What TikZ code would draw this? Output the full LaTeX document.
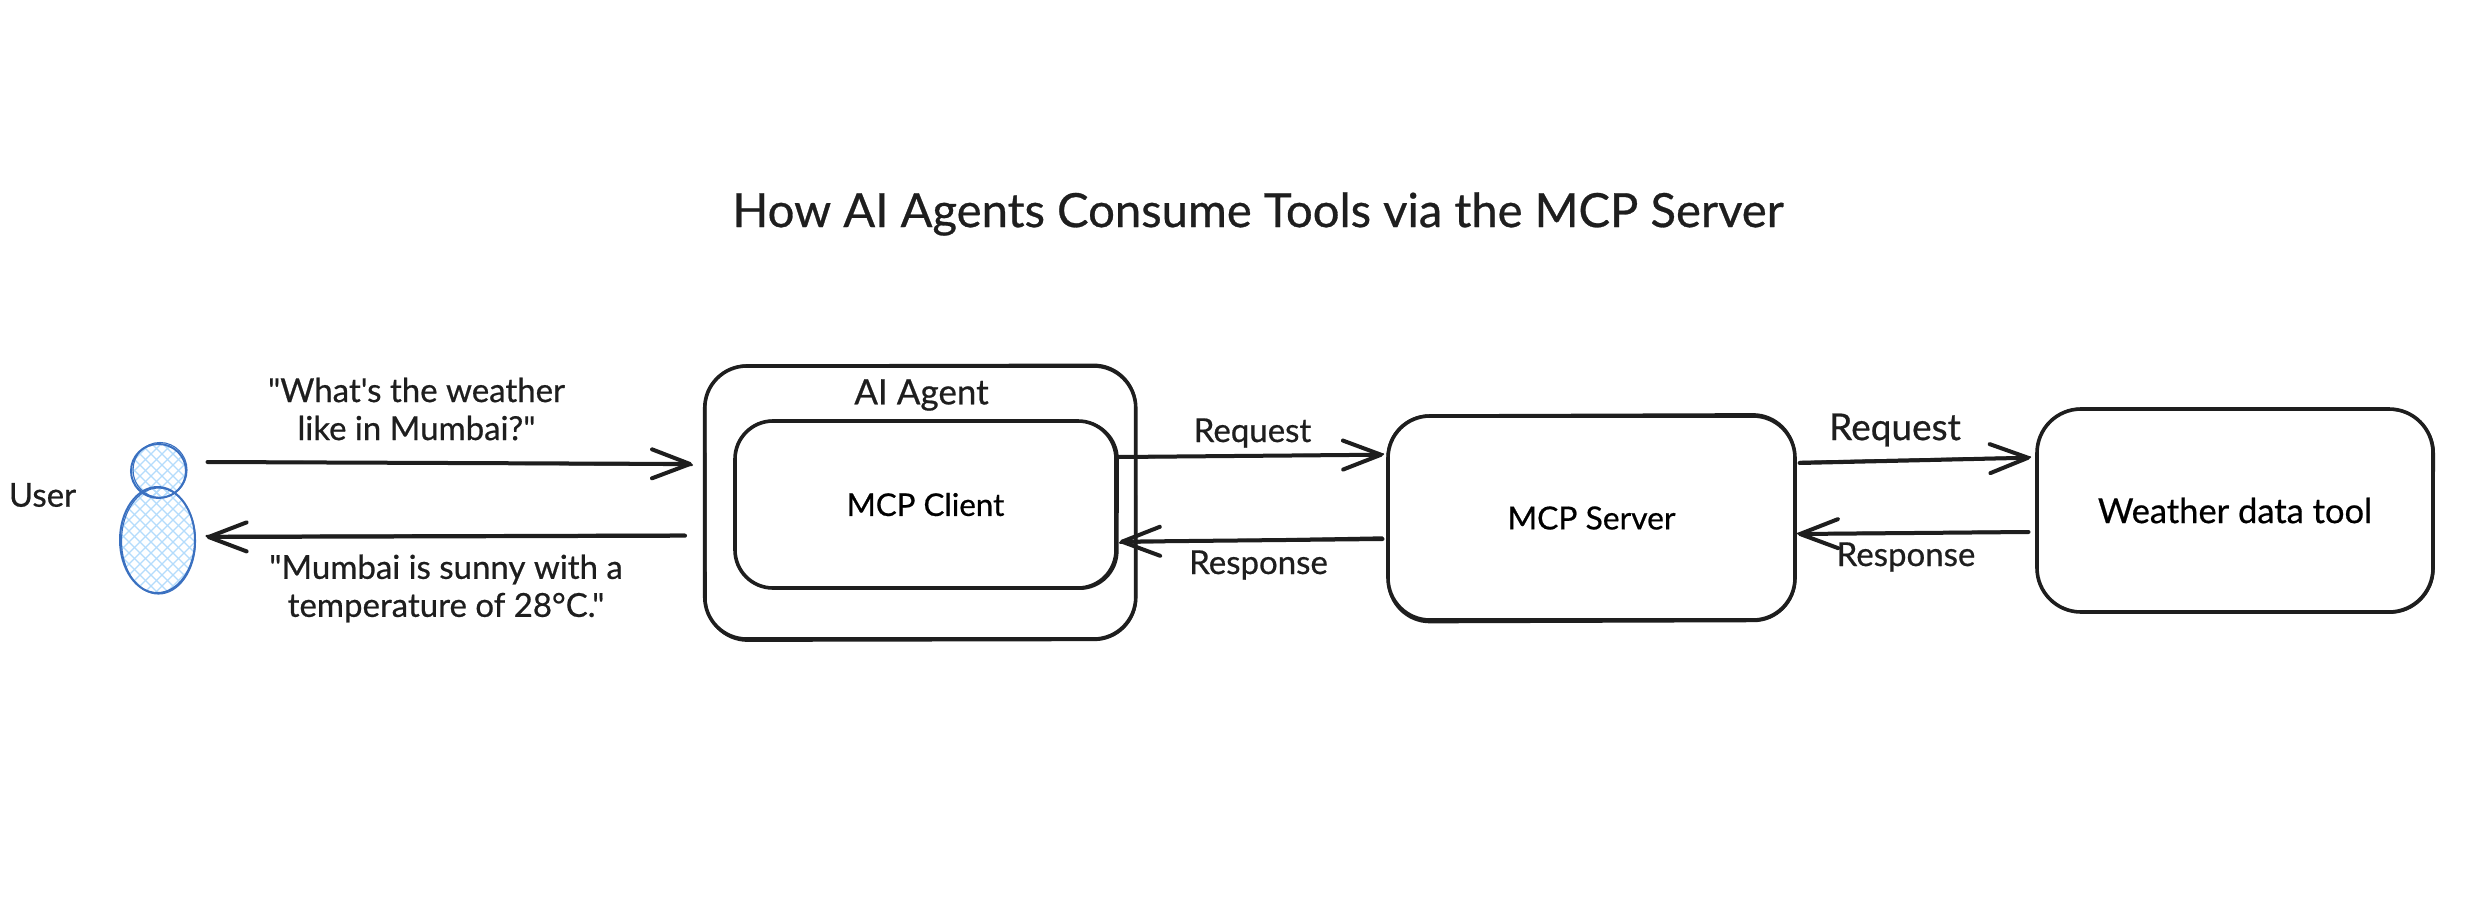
\documentclass[tikz,border=0pt]{standalone}
\usepackage{fontspec}
\setmainfont{Lato}[Ligatures=TeXOff,FakeBold=0.6]
\usetikzlibrary{arrows.meta,shapes.geometric}
\definecolor{ink}{HTML}{1E1E1E}
\definecolor{bluestroke}{HTML}{3A70C0}
\definecolor{bluefill}{HTML}{B4DCFC}
\tikzset{
  x=1pt,y=-1pt,
  boxshape/.style n args={4}{draw=ink,line width=3.6pt,rounded corners=#1,inner sep=0pt,outer sep=0pt,align=center,minimum width=#2,minimum height=#3,font=\fontsize{#4}{#4}\selectfont},
  sketchpass/.style={draw=ink,line width=2.2pt,rounded corners=#1},
  flow/.style={draw=ink,line width=4pt,line cap=round,-{Straight Barb[length=38pt,width=29pt,line width=4pt,round]}},
  flowback/.style={draw=ink,line width=2.4pt,line cap=round},
  lbl/.style={text=ink,inner sep=0pt,align=center,font=\fontsize{#1}{38}\selectfont},
  lbl/.default=33,
  titletext/.style={text=ink,inner sep=0pt,font=\fontsize{47.2}{50}\selectfont},
  person/.style={draw=bluestroke,line width=2pt,ellipse,inner sep=0pt,outer sep=0pt},
  personback/.style={draw=bluestroke,line width=1.1pt},
  hatchline/.style={draw=bluefill,line width=1.2pt},
}
\begin{document}
\begin{tikzpicture}
\useasboundingbox (0,0) rectangle (2468,916);
\fill[white] (0,0) rectangle (2468,916);

% title
\node[titletext] (title) at (1258,214) {How AI Agents Consume Tools via the MCP Server};

% person hatch
\begin{scope}
  \clip (158.5,471) ellipse [x radius=27.5,y radius=27];
  \foreach \c in {-60,-49,...,200} {
    \draw[hatchline] (\c,430) -- (\c+180,610);
    \draw[hatchline] (\c+180,430) -- (\c,610);
  }
\end{scope}
\begin{scope}
  \clip (157.5,540) ellipse [x radius=37.5,y radius=53];
  \foreach \c in {-60,-49,...,200} {
    \draw[hatchline] (\c,430) -- (\c+180,610);
    \draw[hatchline] (\c+180,430) -- (\c,610);
  }
\end{scope}
\node[person,minimum width=55pt,minimum height=54pt] (head) at (158.5,471) {};
\node[person,minimum width=75pt,minimum height=106pt] (body) at (157.5,540) {};
\draw[personback] ([shift={(1.5,-1)}]head.center) ellipse [x radius=27,y radius=27.5];
\draw[personback] ([shift={(1,1)}]body.center) ellipse [x radius=37,y radius=53];

% boxes
\node[boxshape={42pt}{431pt}{273pt}{33}] (agent) at (920.25,502.5) {};
\node[boxshape={38pt}{381pt}{167pt}{31.3}] (client) at (925.5,504.5) {MCP Client};
\node[boxshape={42pt}{407pt}{204pt}{31.8}] (server) at (1591.5,518) {MCP Server};
\node[boxshape={44pt}{396pt}{203pt}{34.5}] (tool) at (2235,510.5) {Weather data tool};

\draw[sketchpass=42pt,rotate around={0.12:(agent.center)}] ([shift={(0.5,-0.5)}]agent.north west) rectangle ([shift={(0.5,1)}]agent.south east);
\draw[sketchpass=38pt,rotate around={-0.15:(client.center)}] ([shift={(0.5,-0.5)}]client.north west) rectangle ([shift={(1.5,1)}]client.south east);
\draw[sketchpass=42pt,rotate around={0.2:(server.center)}] ([shift={(-0.5,-0.5)}]server.north west) rectangle ([shift={(0.5,1)}]server.south east);
\draw[sketchpass=44pt,rotate around={-0.2:(tool.center)}] ([shift={(0.5,-0.5)}]tool.north west) rectangle ([shift={(0.5,1)}]tool.south east);

% connector end points
\coordinate (u1) at (207.5,462);
\coordinate (a1) at (692,464);
\coordinate (a2) at (685,535.7);
\coordinate (u2) at (206.6,537);
\coordinate (c1) at (1118.5,457);
\coordinate (s1) at (1383,454.7);
\coordinate (s2) at (1382.5,539);
\coordinate (c2) at (1120,541.7);
\coordinate (s3) at (1799.6,463);
\coordinate (t1) at (2030,457.7);
\coordinate (t2) at (2028.5,532);
\coordinate (s4) at (1798,534);

% connectors
\draw[flow] (u1) -- (a1);
\draw[flow] (a2) -- (u2);
\draw[flow] (c1) -- (s1);
\draw[flow] (s2) -- (c2);
\draw[flow] (s3) -- (t1);
\draw[flow] (t2) -- (s4);
\draw[flowback] ([yshift=0.5pt]u1) -- ([yshift=-1pt]a1);
\draw[flowback] ([yshift=1pt]a2) -- ([yshift=1pt]u2);
\draw[flowback] ([yshift=0.5pt]s1) -- ([yshift=-0.5pt]c1);
\draw[flowback] ([yshift=1.5pt]s2) -- ([yshift=-1pt]c2);
\draw[flowback] ([yshift=1pt]s3) -- ([yshift=0.5pt]t1);
\draw[flowback] ([yshift=0.5pt]t2) -- ([yshift=0.5pt]s4);

% labels
\node[lbl] (q) at (416.5,409) {"What's the weather\\like in Mumbai?"};
\node[lbl] (ans) at (446,588.5) {"Mumbai is sunny with a\\temperature of 28°C."};
\node[lbl] (user) at (42.5,495) {User};
\node[lbl=35] (agentlabel) at (921.5,395) {AI Agent};
\node[lbl] (req1) at (1252.5,433) {Request};
\node[lbl] (res1) at (1258.5,565) {Response};
\node[lbl=37] (req2) at (1895,430) {Request};
\node[lbl] (res2) at (1906,557) {Response};
\end{tikzpicture}
\end{document}
